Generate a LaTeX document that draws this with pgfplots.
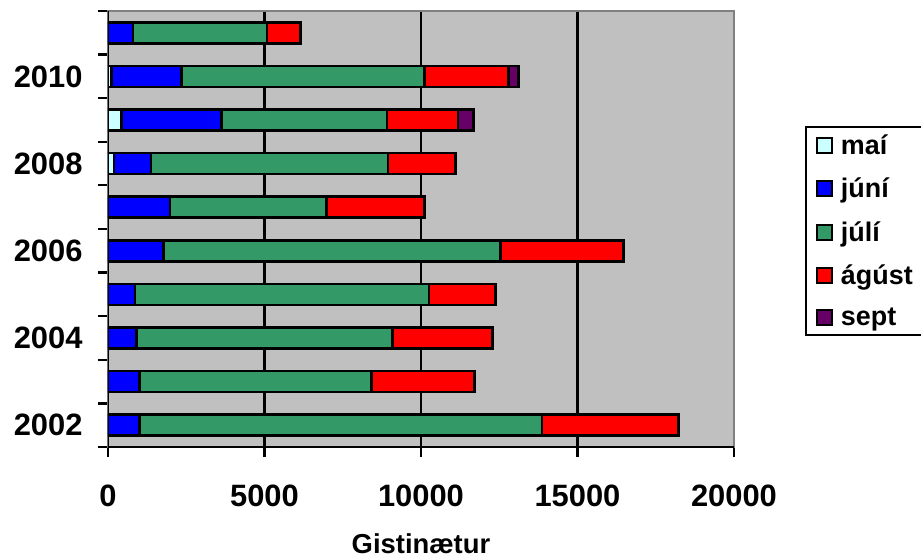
\documentclass[border=0pt]{standalone}
\usepackage{pgfplots}
\pgfplotsset{compat=1.18}
\usepackage{fontspec}
\setmainfont{Liberation Sans}

\definecolor{cmai}{HTML}{CCFFFF}
\definecolor{cjuni}{HTML}{0000FF}
\definecolor{cjuli}{HTML}{339966}
\definecolor{cagust}{HTML}{FF0000}
\definecolor{csept}{HTML}{660066}
\definecolor{plotbg}{HTML}{C0C0C0}
\definecolor{frame}{HTML}{808080}

% y = 0..9 for 2002..2011
\pgfplotsset{barstyle/.style={draw=black, line width=2.6bp, fill=#1}}
\begin{document}
\begin{tikzpicture}
\begin{axis}[
    at={(0,0)}, anchor=south west,
    scale only axis,
    width=626bp, height=436bp,
    xbar stacked,
    bar width=21bp,
    xmin=0, xmax=20000,
    ymin=-0.5, ymax=9.5,
    enlargelimits=false,
    xtick={0,5000,10000,15000,20000},
    scaled ticks=false,
    ytick={-0.5,0.5,...,9.5},
    yticklabels={2002,,2004,,2006,,2008,,2010,,},
    y tick label as interval,
    tick pos=left,
    tick align=outside,
    major tick length=10bp,
    tick style={black, line width=2.2bp},
    xmajorgrids,
    major grid style={black, line width=2.4bp},
    axis background/.style={fill=plotbg},
    axis line style={draw=frame, line width=2.2bp},
    /pgf/number format/assume math mode=true,
    /pgf/number format/set thousands separator={},
    ticklabel style={font=\fontsize{31}{36}\selectfont\bfseries},
    xticklabel style={yshift=-24bp},
    yticklabel style={xshift=-12bp},
    xlabel={Gistinætur},
    xlabel style={font=\fontsize{27.5}{32}\selectfont\bfseries,
        at={(axis description cs:0.5,0)}, anchor=base, yshift=-106bp},
    legend style={at={(axis description cs:1.1134,0.7362)}, anchor=north west,
        draw=black, line width=2bp, fill=white,
        font=\fontsize{27}{32}\selectfont\bfseries,
        inner xsep=10bp, inner ysep=7bp, row sep=20bp, column sep=7bp,
        nodes={inner sep=1bp}},
    legend cell align=left,
    legend image code/.code={\draw[#1,/tikz/.cd,line width=2bp] (0bp,-7.5bp) rectangle (15bp,7.5bp);},
]
\addplot[barstyle=cmai] coordinates {
 (0,0) (0,1) (0,2) (0,3) (0,4) (0,5) (190,6) (440,7) (120,8) (0,9)};
\addplot[barstyle=cjuni] coordinates {
 (1000,0) (1000,1) (910,2) (860,3) (1770,4) (1980,5) (1180,6) (3190,7) (2230,8) (800,9)};
\addplot[barstyle=cjuli] coordinates {
 (12870,0) (7410,1) (8170,2) (9390,3) (10770,4) (5000,5) (7570,6) (5280,7) (7760,8) (4280,9)};
\addplot[barstyle=cagust] coordinates {
 (4350,0) (3300,1) (3210,2) (2130,3) (3920,4) (3140,5) (2160,6) (2270,7) (2690,8) (1070,9)};
\addplot[barstyle=csept] coordinates {
 (0,0) (0,1) (0,2) (0,3) (0,4) (0,5) (0,6) (500,7) (310,8) (0,9)};
\legend{maí,júní,júlí,ágúst,sept}
\draw[black, line width=2.4bp] (rel axis cs:0,1) -- (rel axis cs:0,0) -- (rel axis cs:1,0);
\end{axis}
\pgfresetboundingbox
\path (-108bp,-111bp) rectangle (813bp,447bp);
\end{tikzpicture}
\end{document}
